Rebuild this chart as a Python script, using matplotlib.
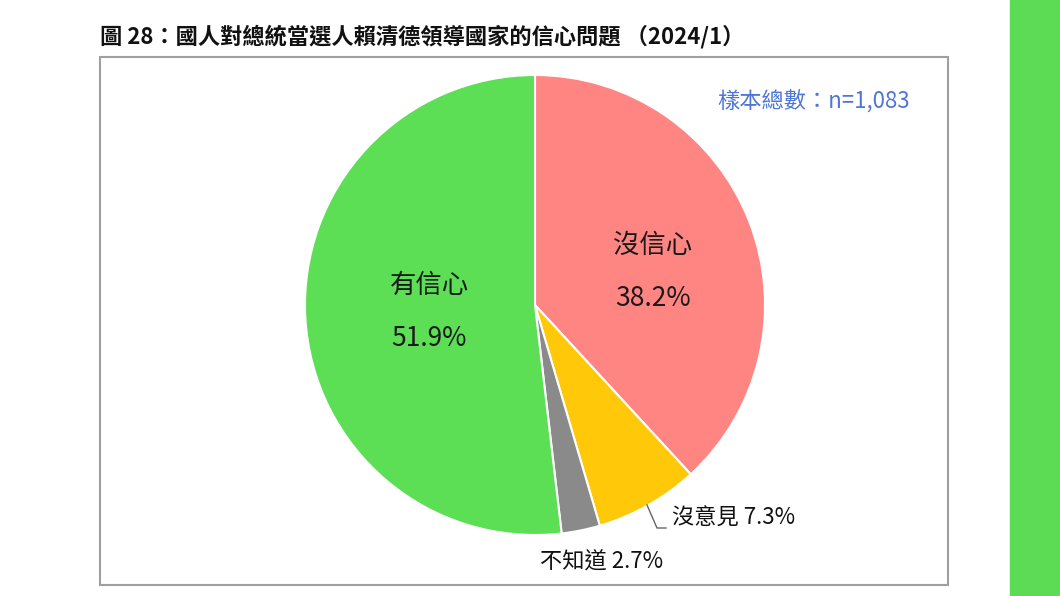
import matplotlib.pyplot as plt
from matplotlib.patches import Rectangle

plt.rcParams['font.family'] = ['Noto Sans CJK TC', 'DejaVu Sans']

labels = ["沒信心", "沒意見", "不知道", "有信心"]
values = [38.2, 7.3, 2.7, 51.9]
colors = ["#FF8583", "#FFC90A", "#8A8A8A", "#5CDE55"]

W, H = 1060, 596
fig = plt.figure(figsize=(W / 100, H / 100), dpi=100)

# pie first, the overlay axes goes on top
cx, cy, r = 535, 305, 230
ax = fig.add_axes([(cx - r) / W, (H - cy - r) / H, 2 * r / W, 2 * r / H])
ax.pie(values, colors=colors, startangle=90, counterclock=False,
       wedgeprops=dict(edgecolor="white", linewidth=1.5))
ax.set_xlim(-1, 1)
ax.set_ylim(-1, 1)

# overlay in pixel coords: frame, strip, texts
bg = fig.add_axes([0, 0, 1, 1])
bg.patch.set_alpha(0)
bg.set_xlim(0, W)
bg.set_ylim(H, 0)
bg.axis("off")
bg.add_patch(Rectangle((100, 57), 848, 528, fill=False, edgecolor="#A0A0A0", lw=1.5))
bg.add_patch(Rectangle((1010, 0), 50, H, color="#5CDB55"))
bg.text(100, 37, "圖 28：國人對總統當選人賴清德領導國家的信心問題 （2024/1）",
        fontsize=16, fontweight="bold", va="center", ha="left", color="#111111")
bg.text(910, 101, "樣本總數：n=1,083", fontsize=16, color="#4F76D6",
        ha="right", va="center")

# labels inside
inner = dict(fontsize=19, fontweight="medium", ha="center", va="center", color="#1A1A1A")
bg.text(429, 285, labels[3], **inner)
bg.text(429, 338, f"{values[3]}%", **inner)
bg.text(653, 245, labels[0], **inner)
bg.text(653, 298, f"{values[0]}%", **inner)

# outside labels
bg.plot([647, 657, 666], [505, 528, 528], color="#666666", lw=1)
bg.text(672, 518, f"{labels[1]} {values[1]}%", fontsize=16, fontweight="medium",
        ha="left", va="center", color="#111111")
bg.text(540, 562, f"{labels[2]} {values[2]}%", fontsize=16, fontweight="medium",
        ha="left", va="center", color="#111111")

fig.savefig("out.png", dpi=100, facecolor="white")
